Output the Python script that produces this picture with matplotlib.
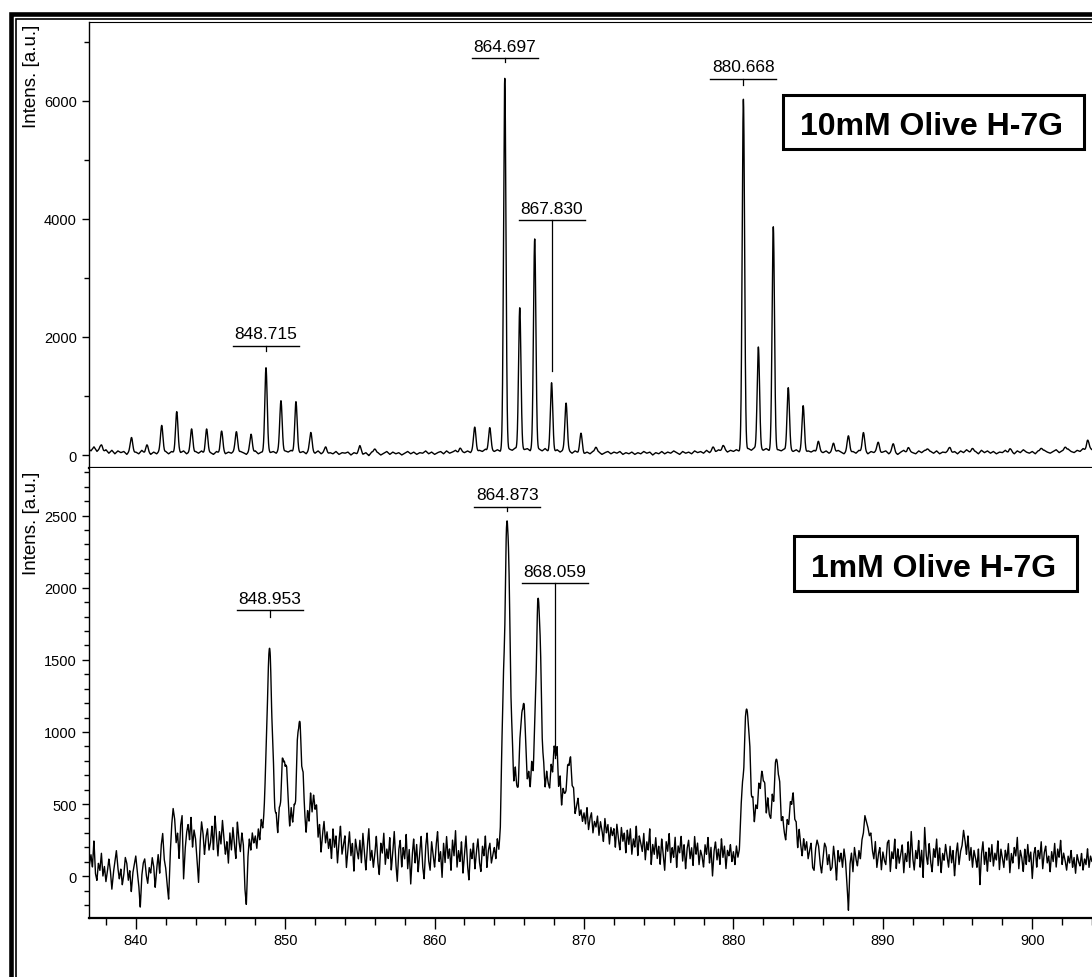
import numpy as np
import matplotlib
matplotlib.use("Agg")
import matplotlib.pyplot as plt
import matplotlib.transforms as mtransforms
from matplotlib.lines import Line2D
from matplotlib.patches import Rectangle
from matplotlib.ticker import MultipleLocator

plt.rcParams['font.family'] = ['Liberation Sans', 'DejaVu Sans']

W, H = 1092, 978

# m/z window shown on both spectra
mz_lo, mz_hi = 836.87, 904.0

# ---- 10 mM spectrum -------------------------------------------------
# baseline / noise, one value every 0.2 m/z starting at 836.8
top_base_start, top_base_step = 836.8, 0.2
top_base = [
    110, 70,
    140, 60, 110, 40, 90,   30, 80, 20, 70, 40,   60, 10, 70, 30, 50,
    20, 80, 30, 60, 10,     50, 20, 70, 30, 60,   20, 60, 30, 80, 40,
    70, 20, 50, 10, 60,     30, 70, 20, 50, 40,   10, 60, 30, 80, 20,
    50, 30, 70, 20, 60,     40, 10, 60, 30, 70,   20, 50, 30, 80, 40,
    60, 30, 90, 40, 70,     50, 80, 30, 70, 40,   60, 20, 80, 50, 30,
    70, 20, 50, 10, 40,     20, 60, 10, 40, 30,   50, 0, 40, 20, 60,
    10, 40, -10, 50, 20,    40, 0, 30, 60, 10,    50, 20, 40, 0, 30,
    60, 20, 50, 10, 40,     30, 70, 20, 50, 10,   40, 60, 20, 70, 30,
    50, 80, 30, 60, 40,     70, 40, 90, 50, 80,   60, 100, 50, 80, 60,
    90, 60, 110, 70, 100,   80, 120, 70, 100, 90, 110, 70, 120, 80, 100,
    70, 110, 60, 90, 50,    90, 50, 80, 40, 70,   30, 70, 40, 60, 20,
    50, 20, 60, 30, 50,     10, 40, 60, 20, 50,   30, 60, 10, 40, 20,
    50, 10, 40, 20, 60,     30, 50, 0, 40, 20,    60, 20, 50, 30, 70,
    40, 10, 60, 30, 50,     20, 70, 40, 60, 30,   80, 40, 70, 50, 90,
    60, 100, 50, 80, 60,    90, 60, 100, 70, 110, 80, 120, 70, 100, 80,
    110, 70, 100, 60, 90,   70, 100, 50, 80, 60,  90, 50, 80, 40, 70,
    50, 80, 30, 60, 40,     70, 30, 60, 40, 80,   50, 20, 70, 40, 60,
    30, 80, 50, 70, 20,     60, 40, 80, 30, 50,   70, 20, 60, 40, 10,
    50, 80, 30, 60, 40,     20, 70, 40, 80, 30,   60, 30, 70, 20, 50,
    40, 80, 30, 60, 20,     70, 40, 90, 50, 30,   60, 20, 80, 40, 70,
    30, 60, 20, 50, 40,     80, 30, 60, 20, 70,   40, 90, 50, 30, 60,
    20, 70, 40, 80, 50,     30, 60, 90, 40, 70,   50, 100, 60, 40, 80,
    60, 110, 70, 130, 90,   100,
]
top_peak_mz = [
    837.72, 839.72, 840.74, 841.74, 842.74, 843.74, 844.74, 845.74, 846.74,
    847.72, 848.715, 849.72, 850.72, 851.72, 852.72, 855.0, 856.0, 861.7,
    862.69, 863.69, 864.697, 865.70, 866.70, 867.830, 868.80, 869.80, 870.80,
    878.65, 879.3, 880.668, 881.67, 882.67, 883.67, 884.67, 885.68, 886.70,
    887.70, 888.70, 889.70, 890.70, 891.70, 893.0, 894.5, 896.0, 898.5,
    900.6, 902.2, 903.7,
]
top_peak_int = [
    100, 250, 120, 460, 670, 420, 400, 340, 360,
    310, 1420, 860, 850, 320, 110, 100, 80, 70,
    400, 400, 6290, 2410, 3560, 1140, 840, 310, 100,
    70, 80, 5940, 1750, 3780, 1080, 770, 190, 150,
    270, 320, 160, 140, 80, 70, 70, 80, 60,
    70, 80, 150,
]
top_labels = ["848.715", "864.697", "867.830", "880.668"]

# ---- 1 mM spectrum --------------------------------------------------
# baseline / noise, one value every 0.1 m/z starting at 836.8
bot_base_start, bot_base_step = 836.8, 0.1
bot_base = [
    30, 80,
    150, 60, 250, 20, -30, 90, 40, 160, 0, 70,             # 837
    -40, 30, 120, 40, -90, 20, 100, 180, 60, -20,          # 838
    50, -60, 10, 130, 90, -30, 40, -110, 20, 80,           # 839
    140, 30, -60, -220, 0, 90, 120, 10, -50, 60,           # 840
    20, 130, 70, -80, 50, 150, 20, 210, 300, 120,          # 841
    60, -60, -160, 140, 350, 470, 400, 230, 300, 120,      # 842
    350, 420, -20, 180, 300, 360, 250, 410, 200, 320,      # 843
    260, 120, -50, 220, 380, 300, 150, 270, 330, 180,      # 844
    230, 350, 180, 420, 280, 140, 310, 220, 390, 260,      # 845
    150, 240, 90, 300, 180, 340, 220, 120, 380, 250,       # 846
    170, 300, 220, -80, -200, 120, 260, 180, 300, 230,     # 847
    280, 190, 330, 250, 390, 300, 350, 420, 340, 380,      # 848
    380, 300, 450, 330, 400, 280, 420, 360, 500, 340,      # 849
    310, 440, 380, 290, 460, 350, 420, 300, 480, 390,      # 850
    430, 320, 500, 380, 280, 450, 360, 520, 330, 400,      # 851
    300, 380, 210, 340, 160, 290, 380, 230, 310, 190,      # 852
    260, 120, 330, 200, 280, 90, 240, 350, 150, 220,       # 853
    280, 60, 190, 310, 140, 230, 30, 260, 180, 120,        # 854
    250, 90, 300, 170, 40, 210, 330, 110, 180, 60,         # 855
    150, 280, 100, 10, 230, 160, 300, 80, 190, 120,        # 856
    270, 40, 160, 310, 100, -40, 180, 250, 60, 200,        # 857
    120, 290, 50, 190, -60, 140, 260, 90, 220, 30,         # 858
    160, 280, 70, -20, 200, 300, 110, 40, 240, 150,        # 859
    60, 210, 310, 100, 170, -10, 230, 90, 280, 120,        # 860
    190, 40, 250, 140, 320, 60, 180, 100, 240, 20,         # 861
    150, 280, 80, -30, 190, 120, 230, 50, 170, 260,        # 862
    100, 30, 210, 140, 280, 60, 180, 230, 90, 150,         # 863
    200, 120, 260, 180, 300, 750, 880, 620, 700, 560,      # 864
    620, 540, 700, 580, 740, 600, 520, 680, 620, 560,      # 865
    650, 580, 520, 680, 600, 760, 580, 650, 560, 700,      # 866
    620, 680, 540, 650, 580, 720, 640, 580, 690, 540,      # 867
    640, 560, 700, 520, 660, 480, 600, 540, 500, 580,      # 868
    500, 560, 440, 520, 400, 480, 540, 420, 460, 380,      # 869
    440, 360, 480, 320, 400, 440, 300, 380, 340, 420,      # 870
    280, 380, 320, 240, 400, 300, 360, 220, 340, 280,      # 871
    330, 200, 360, 260, 180, 340, 240, 300, 160, 320,      # 872
    220, 330, 150, 260, 200, 350, 140, 280, 230, 170,      # 873
    300, 110, 240, 180, 330, 80, 220, 150, 270, 120,       # 874
    210, 80, 260, 150, 40, 240, 170, 300, 90, 200,         # 875
    130, 270, 60, 210, 160, 280, 100, 220, 50, 190,        # 876
    250, 120, 200, 70, 280, 150, 230, 80, 180, 140,        # 877
    60, 220, 150, 270, 90, 200, 0, 170, 240, 110,          # 878
    190, 80, 260, 130, 210, 50, 180, 140, 220, 100,        # 879
    170, 80, 210, 130, 180, 440, 540, 480, 600, 520,       # 880
    460, 540, 400, 500, 360, 480, 420, 520, 380, 440,      # 881
    400, 480, 360, 520, 420, 380, 500, 340, 460, 400,      # 882
    340, 420, 280, 380, 300, 240, 360, 260, 320, 220,      # 883
    300, 200, 280, 160, 320, 220, 140, 260, 180, 240,      # 884
    120, 180, 230, 60, 40, 190, 250, 210, 90, 20,          # 885
    130, 230, 200, 80, 150, 40, 60, 210, 120, -30,         # 886
    180, 100, 160, 60, 190, 110, -50, -240, 80, 160,       # 887
    30, 200, 120, 70, 180, 120, 250, 300, 420, 380,        # 888
    340, 280, 300, 180, 120, 240, 60, 150, 200, 40,        # 889
    170, 110, 80, 230, 250, 30, 170, 120, 260, 50,         # 890
    190, 90, 150, 220, 20, 160, 100, 240, 60, 310,         # 891
    130, 40, 180, 120, 250, 60, 180, -10, 340, 150,        # 892
    80, 230, 100, 30, 190, 130, 260, 70, 200, 20,          # 893
    160, 110, 220, 140, 60, 210, 90, 180, 0, 150,          # 894
    230, 80, 170, 210, 320, 250, 150, 280, 110, 200,       # 895
    60, 180, 130, 60, 190, -60, 150, 240, 80, 170,         # 896
    30, 200, 100, 220, 70, 160, 110, 250, 40, 190,         # 897
    130, 60, 180, 110, 230, 20, 160, 90, 200, 140,         # 898
    270, 50, 180, 130, 30, 190, 80, 220, 100, 170,         # 899
    -20, 150, 200, 60, 180, 120, 240, 50, 160, 210,        # 900
    90, 140, 30, 170, 100, 230, 60, 190, 130, 250,         # 901
    80, 160, 110, 40, 140, 90, 180, 60, 130, 20,           # 902
    150, 100, 70, 160, 40, 120, 80, 190, 60, 140,          # 903
    100, 170,
]
bot_peak_mz = [
    848.953, 849.95, 850.95, 851.95,
    864.873, 865.92, 866.95, 868.059, 869.05,
    880.92, 881.92, 882.92, 883.95,
]
bot_peak_int = [
    1200, 470, 660, 170,
    1850, 600, 1260, 280, 280,
    640, 290, 410, 290,
]
bot_labels = ["848.953", "864.873", "868.059"]


def spectrum(x, base_start, base_step, base, peak_mz, peak_int, sigma):
    bx = base_start + base_step * np.arange(len(base))
    y = np.interp(x, bx, base)
    for m, h in zip(peak_mz, peak_int):
        y = y + h * np.exp(-0.5 * ((x - m) / sigma) ** 2)
    return y


def px_x(p):
    return p / W


def px_y(p):
    return 1 - p / H


def add_labels(ax, labels, bars, tips):
    # bracket-style peak labels: text, horizontal bar and a drop line
    half = 2.21
    txt_tr = mtransforms.offset_copy(ax.transData, fig=ax.figure, y=5.4, units='points')
    for lab, bar, tip in zip(labels, bars, tips):
        m = float(lab)
        ax.plot([m - half, m + half], [bar, bar], color='black', lw=1.0, clip_on=False)
        ax.plot([m, m], [bar, tip], color='black', lw=0.9, clip_on=False)
        ax.text(m, bar, lab, transform=txt_tr, ha='center', va='baseline',
                fontsize=12.5, color='black')


fig = plt.figure(figsize=(W / 100, H / 100), dpi=100)

x = np.linspace(mz_lo - 0.05, mz_hi + 0.05, 10000)
y_top = spectrum(x, top_base_start, top_base_step, top_base, top_peak_mz, top_peak_int, 0.08)
y_bot = spectrum(x, bot_base_start, bot_base_step, bot_base, bot_peak_mz, bot_peak_int, 0.17)

left = px_x(89)
width = 1 - left
ax1 = fig.add_axes([left, px_y(469), width, (469 - 22.7) / H])
ax2 = fig.add_axes([left, px_y(919), width, (919 - 469) / H])

for ax, y in ((ax1, y_top), (ax2, y_bot)):
    ax.plot(x, y, color='black', lw=1.0)
    ax.set_xlim(mz_lo, mz_hi)
    ax.spines['right'].set_visible(False)
    ax.spines['left'].set_linewidth(1.0)
    ax.tick_params(axis='y', which='major', direction='out', length=5.4, width=1.0,
                   labelsize=10.5, pad=3.5)
    ax.tick_params(axis='y', which='minor', direction='out', length=3.6, width=1.0)

ax1.set_ylim(-220, 7340)
ax1.yaxis.set_major_locator(MultipleLocator(2000))
ax1.yaxis.set_minor_locator(MultipleLocator(1000))
ax1.spines['top'].set_linewidth(0.8)
ax1.spines['bottom'].set_linewidth(1.6)
ax1.set_xticks([])

ax2.set_ylim(-290, 2830)
ax2.yaxis.set_major_locator(MultipleLocator(500))
ax2.yaxis.set_minor_locator(MultipleLocator(100))
ax2.spines['top'].set_visible(False)
ax2.spines['bottom'].set_linewidth(1.6)
ax2.xaxis.set_major_locator(MultipleLocator(10))
ax2.xaxis.set_minor_locator(MultipleLocator(2))
ax2.tick_params(axis='x', which='major', direction='out', length=8, width=1.0,
                labelsize=10.5, pad=3)
ax2.tick_params(axis='x', which='minor', direction='out', length=5, width=1.0)

add_labels(ax1, top_labels, [1850, 6720, 3980, 6370], [1760, 6650, 1420, 6270])
add_labels(ax2, bot_labels, [1845, 2560, 2030], [1800, 2530, 820])

# axis captions
for ytop in (25, 472):
    fig.text(px_x(31), px_y(ytop), "Intens. [a.u.]", rotation=90, ha='center', va='top',
             fontsize=13.5)

# sample boxes
for (x0, y0, x1, y1), label, xc, yb in (((783, 96, 1084, 150), "10mM Olive H-7G", 931, 135),
                                        ((794, 537, 1077, 592), "1mM Olive H-7G", 933.5, 577)):
    fig.add_artist(Rectangle((px_x(x0), px_y(y1)), (x1 - x0) / W, (y1 - y0) / H,
                             transform=fig.transFigure, fill=False, lw=2.2,
                             edgecolor='black'))
    fig.text(px_x(xc), px_y(yb), label, ha='center', va='baseline', fontsize=23,
             fontweight='bold')

# double page frame, cut at right and bottom
fig.add_artist(Line2D([px_x(11), px_x(11), 1], [0, px_y(14.5), px_y(14.5)],
                      transform=fig.transFigure, color='black', lw=3.3,
                      solid_joinstyle='miter'))
fig.add_artist(Line2D([px_x(16), px_x(16), 1], [0, px_y(19.5), px_y(19.5)],
                      transform=fig.transFigure, color='black', lw=1.2,
                      solid_joinstyle='miter'))

fig.savefig("out.png", dpi=100)
